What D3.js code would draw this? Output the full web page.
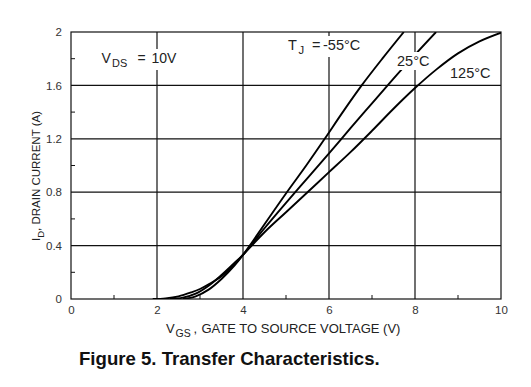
<!DOCTYPE html>
<html>
<head>
<meta charset="utf-8">
<script src="https://cdn.jsdelivr.net/npm/d3@7"></script>
<style>
  html, body { margin: 0; padding: 0; background: #fff; }
  svg { display: block; font-family: "Liberation Sans", Arial, sans-serif; }
</style>
</head>
<body>
<svg id="chart" width="531" height="387"></svg>
<script>
// ---- Data ----
const xTicks = [0, 2, 4, 6, 8, 10];
const xMinorTicks = [1, 3, 5, 7, 9];
const yTicks = [0, 0.4, 0.8, 1.2, 1.6, 2];
const yTickLabels = ["0", "0.4", "0.8", "1.2", "1.6", "2"];
const yMinorTicks = [0.2, 0.6, 1.0, 1.4, 1.8];

const seriesNames = ["-55°C", "25°C", "125°C"];
const vgsM55 = [2.6, 2.9, 3.2, 3.5, 3.8, 4.0, 4.2, 4.5, 5.02, 5.47, 5.9, 6.32, 6.76, 7.24, 7.74];
const idM55  = [0, 0.02, 0.07, 0.15, 0.25, 0.33, 0.42, 0.56, 0.8, 1.0, 1.2, 1.4, 1.6, 1.8, 2.0];
const vgs25  = [2.3, 2.6, 2.9, 3.2, 3.5, 3.8, 4.0, 4.5, 5.0, 5.5, 6.0, 6.5, 7.0, 7.5, 8.0, 8.49];
const id25   = [0, 0.01, 0.04, 0.1, 0.18, 0.27, 0.33, 0.53, 0.72, 0.905, 1.09, 1.28, 1.465, 1.65, 1.83, 2.0];
const vgs125 = [1.9, 2.2, 2.5, 2.8, 3.0, 3.2, 3.5, 3.8, 4.0, 4.5, 5.0, 5.5, 6.0, 6.5, 7.0, 7.5, 8.0, 8.5, 9.0, 9.5, 10];
const id125  = [0, 0.005, 0.02, 0.05, 0.075, 0.11, 0.17, 0.26, 0.33, 0.5, 0.65, 0.8, 0.95, 1.1, 1.26, 1.425, 1.58, 1.72, 1.84, 1.93, 1.995];

const series = [
  { name: seriesNames[0], x: vgsM55, y: idM55 },
  { name: seriesNames[1], x: vgs25, y: id25 },
  { name: seriesNames[2], x: vgs125, y: id125 }
];

// ---- Layout ----
const svg = d3.select("#chart");
const pL = 71, pR = 501, pT = 32, pB = 299;
const FONT = "Liberation Sans, Arial, sans-serif";

const x = d3.scaleLinear().domain([0, 10]).range([pL, pR]);
const y = d3.scaleLinear().domain([0, 2]).range([pB, pT]);

// gridlines
const grid = svg.append("g").attr("stroke", "#111").attr("stroke-width", 1.2);
grid.selectAll("line.v").data(xTicks.slice(1, -1)).join("line").attr("class", "v")
  .attr("x1", d => x(d)).attr("x2", d => x(d)).attr("y1", pT).attr("y2", pB);
grid.selectAll("line.h").data(yTicks.slice(1, -1)).join("line").attr("class", "h")
  .attr("x1", pL).attr("x2", pR).attr("y1", d => y(d)).attr("y2", d => y(d));

// frame
svg.append("rect").attr("x", pL).attr("y", pT).attr("width", pR - pL).attr("height", pB - pT)
  .attr("fill", "none").attr("stroke", "#111").attr("stroke-width", 1.2);

// axes
const xAxis = d3.axisBottom(x).tickValues(xTicks).tickSize(0).tickPadding(7).tickFormat(d3.format("d"));
const gx = svg.append("g").attr("transform", `translate(0,${pB})`).call(xAxis);
gx.select(".domain").remove();
gx.selectAll("text").attr("font-size", 11.5).attr("fill", "#333").attr("font-family", FONT);

const yAxis = d3.axisLeft(y).tickValues(yTicks).tickSize(0).tickPadding(9)
  .tickFormat((d, i) => yTickLabels[i]);
const gy = svg.append("g").attr("transform", `translate(${pL},0)`).call(yAxis);
gy.select(".domain").remove();
gy.selectAll("text").attr("font-size", 11.5).attr("fill", "#333").attr("font-family", FONT);

// minor ticks (inside)
svg.append("g").attr("stroke", "#111").attr("stroke-width", 1)
  .selectAll("line").data(xMinorTicks).join("line")
  .attr("x1", d => x(d)).attr("x2", d => x(d)).attr("y1", pB).attr("y2", pB - 4);
svg.append("g").attr("stroke", "#111").attr("stroke-width", 1)
  .selectAll("line").data(yMinorTicks).join("line")
  .attr("x1", pL).attr("x2", pL + 4).attr("y1", d => y(d)).attr("y2", d => y(d));

// curves
svg.append("clipPath").attr("id", "clip").append("rect")
  .attr("x", pL).attr("y", pT).attr("width", pR - pL).attr("height", pB - pT);
const line = d3.line().x(d => x(d[0])).y(d => y(d[1])).curve(d3.curveCatmullRom.alpha(0.5));
svg.append("g").attr("clip-path", "url(#clip)")
  .selectAll("path").data(series).join("path")
  .attr("d", s => line(s.x.map((v, i) => [v, s.y[i]])))
  .attr("fill", "none").attr("stroke", "#000").attr("stroke-width", 1.9);

// annotations: parts with explicit x offsets
const ann = svg.append("g");
function label(parts, base, size, bg) {
  const g = ann.append("g");
  const t = g.append("text").attr("y", base).attr("font-size", size).attr("fill", "#222");
  parts.forEach(p => {
    t.append("tspan").attr("x", p.x).attr("y", p.sub ? base + 4 : base)
      .attr("font-size", p.sub ? size * 0.78 : size).text(p.t);
  });
  if (bg) {
    const bb = t.node().getBBox();
    g.insert("rect", "text").attr("x", bb.x - 2).attr("y", bb.y - 1)
      .attr("width", bb.width + 4).attr("height", bb.height + 2).attr("fill", "#fff");
  }
}
label([{t: "V", x: 101.5}, {t: "DS", x: 112, sub: true}, {t: "=", x: 137.5}, {t: "10V", x: 151.5}], 63, 14, true);
label([{t: "T", x: 288}, {t: "J", x: 298.5, sub: true}, {t: "=", x: 312}, {t: seriesNames[0], x: 323}], 50, 14.5, true);
label([{t: seriesNames[1], x: 397}], 66, 14.5, true);
label([{t: seriesNames[2], x: 450}], 78, 14.5, false);

// axis titles
const xt = svg.append("text").attr("y", 333).attr("font-size", 13).attr("fill", "#222");
xt.append("tspan").attr("x", 166).text("V");
xt.append("tspan").attr("x", 175.5).attr("y", 337).attr("font-size", 10.5).text("GS");
xt.append("tspan").attr("x", 193.5).attr("y", 333).text(",");
xt.append("tspan").attr("x", 201.5).text("GATE TO SOURCE VOLTAGE (V)");

const yt = svg.append("text").attr("transform", "translate(40,176) rotate(-90)").attr("text-anchor", "middle")
  .attr("font-size", 11.5).attr("fill", "#222");
yt.append("tspan").text("I");
yt.append("tspan").text("D").attr("font-size", 9.5).attr("dy", 4);
yt.append("tspan").text(", DRAIN CURRENT (A)").attr("dy", -4);

// figure caption
svg.append("text").attr("x", 79).attr("y", 365).attr("font-size", 18.6).attr("font-weight", "bold")
  .attr("fill", "#111").text("Figure 5. Transfer Characteristics.");
</script>
</body>
</html>
